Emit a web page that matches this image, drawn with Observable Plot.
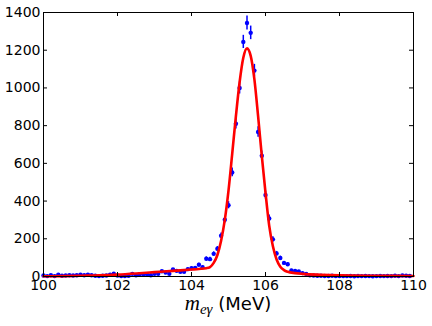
<!DOCTYPE html>
<html>
<head>
<meta charset="utf-8">
<script src="https://cdn.jsdelivr.net/npm/d3@7"></script>
<script src="https://cdn.jsdelivr.net/npm/@observablehq/plot@0.6"></script>
<style>
  html, body { margin: 0; padding: 0; background: white; }
</style>
</head>
<body>
<div id="chart"></div>
<script>
// Histogram bins (MeV)
const mass = [
  100.0,100.1,100.2,100.3,100.4,100.5,100.6,100.7,100.8,100.9,
  101.0,101.1,101.2,101.3,101.4,101.5,101.6,101.7,101.8,101.9,
  102.0,102.1,102.2,102.3,102.4,102.5,102.6,102.7,102.8,102.9,
  103.0,103.1,103.2,103.3,103.4,103.5,103.6,103.7,103.8,103.9,
  104.0,104.1,104.2,104.3,104.4,104.5,104.6,104.7,104.8,104.9,
  105.0,105.1,105.2,105.3,105.4,105.5,105.6,105.7,105.8,105.9,
  106.0,106.1,106.2,106.3,106.4,106.5,106.6,106.7,106.8,106.9,
  107.0,107.1,107.2,107.3,107.4,107.5,107.6,107.7,107.8,107.9,
  108.0,108.1,108.2,108.3,108.4,108.5,108.6,108.7,108.8,108.9,
  109.0,109.1,109.2,109.3,109.4,109.5,109.6,109.7,109.8,109.9
];
const counts = [
  5,2,7,2,9,4,5,7,5,7,
  10,7,10,7,4,2,4,5,10,15,
  5,2,2,4,14,7,12,12,10,7,
  14,14,28,21,14,37,30,25,25,39,
  44,46,62,49,94,92,120,147,216,301,
  378,552,810,1000,1244,1344,1292,1092,766,640,
  432,308,197,122,98,72,65,32,29,27,
  18,14,6,5,4,4,3,3,4,2,
  3,2,2,3,1,3,2,3,2,1,
  2,3,2,3,2,4,2,5,4,3
];
const errors = [
  2,1,3,1,3,2,2,3,2,3,
  3,3,3,3,2,1,2,2,3,4,
  2,1,1,2,4,3,3,3,3,3,
  4,4,5,5,4,6,5,5,5,6,
  7,7,8,7,10,10,11,12,15,17,
  19,23,28,32,35,37,36,33,28,25,
  21,18,14,11,10,8,8,6,5,5,
  4,4,2,2,2,2,2,2,2,1,
  2,1,1,2,1,2,1,2,1,1,
  1,2,1,2,1,2,1,2,2,2
];
// Fit curve
const fitMass = [100.0,100.5,101.0,101.5,102.0,102.5,103.0,103.5,104.0,104.2,104.4,104.5,104.6,104.7,104.8,104.9,105.0,105.1,105.2,105.3,105.4,105.5,105.6,105.7,105.8,105.9,106.0,106.1,106.2,106.3,106.4,106.5,106.6,106.8,107.0,107.5,108.0,109.0,110.0];
const fitCounts = [1,2,4,6,10,16,23,30,37,40,44,50,72,114,190,300,455,650,850,1030,1160,1210,1170,1045,850,640,445,270,160,90,52,34,25,18,14,9,6,4,3];

const xTicks = [100,102,104,106,108,110];
const yTicks = [0,200,400,600,800,1000,1200,1400];

const points = mass.map((m, i) => ({m, c: counts[i], e: errors[i]}));
const fit = fitMass.map((m, i) => ({m, c: fitCounts[i]}));

const W = 432, H = 326, mL = 43, mR = 19, mT = 12, mB = 50;
const innerW = W - mL - mR, innerH = H - mT - mB;
const tl = 4;

const chart = Plot.plot({
  width: W, height: H,
  marginLeft: mL, marginRight: mR, marginTop: mT, marginBottom: mB,
  style: {fontFamily: "DejaVu Sans", fontSize: "14px", background: "white", color: "black"},
  x: {domain: [100, 110], label: null},
  y: {domain: [0, 1400], label: null},
  marks: [
    Plot.ruleX(points, {x: "m", y1: d => d.c - d.e, y2: d => d.c + d.e, stroke: "#0000ff", strokeWidth: 1.5}),
    Plot.dot(points, {x: "m", y: "c", r: 2.2, fill: "#0000ff", stroke: "none"}),
    Plot.line(fit, {x: "m", y: "c", stroke: "#ff0000", strokeWidth: 2.6, curve: "monotone-x"}),
    Plot.frame({stroke: "black", strokeWidth: 1}),
    Plot.tickX(xTicks, {x: d => d, insetTop: innerH - tl, stroke: "black"}),
    Plot.tickX(xTicks, {x: d => d, insetBottom: innerH - tl, stroke: "black"}),
    Plot.tickY(yTicks, {y: d => d, insetRight: innerW - tl, stroke: "black"}),
    Plot.tickY(yTicks, {y: d => d, insetLeft: innerW - tl, stroke: "black"}),
    Plot.axisX(xTicks, {tickSize: 0, tickPadding: 4, fontSize: 14, label: null, tickFormat: d => String(d)}),
    Plot.axisY(yTicks, {tickSize: 0, tickPadding: 3, fontSize: 14, label: null, tickFormat: d => String(d)})
  ]
});

const svg = d3.select(chart);
const lab = svg.append("text")
  .attr("x", mL + innerW / 2)
  .attr("y", 309.5)
  .attr("text-anchor", "middle")
  .attr("fill", "black");
lab.append("tspan").attr("font-family", "Liberation Serif").attr("font-style", "italic").attr("font-size", 21).text("m");
lab.append("tspan").attr("font-family", "Liberation Serif").attr("font-style", "italic").attr("font-size", 15).attr("dy", 4).text("eγ");
lab.append("tspan").attr("font-family", "DejaVu Sans").attr("font-size", 18).attr("dy", -4).text(" (MeV)");

document.getElementById("chart").appendChild(chart);
</script>
</body>
</html>
